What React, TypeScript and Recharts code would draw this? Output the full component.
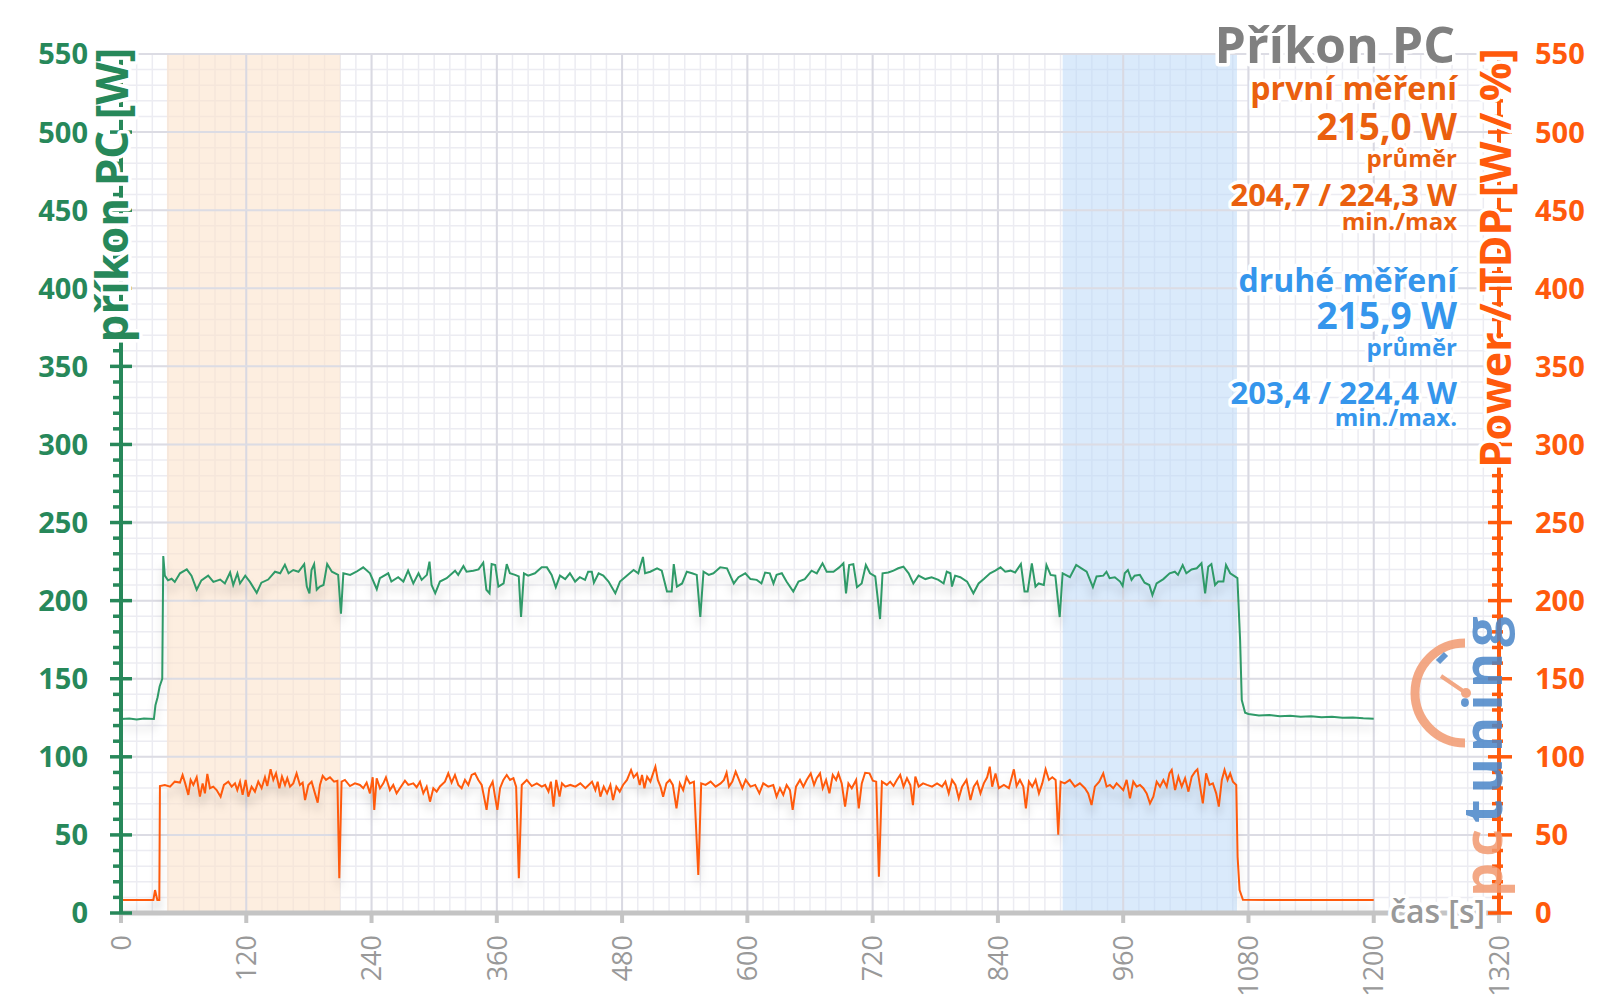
import React from "react";
import {
  LineChart,
  Line,
  XAxis,
  YAxis,
  CartesianGrid,
  ReferenceArea,
  ReferenceLine,
} from "recharts";

// green: příkon PC [W], [čas s, W]
const greenSamples: [number, number][] = [
  [0, 124.2], [8, 124.6], [15, 123.9], [22, 124.5], [31.5, 124.2], [33, 133], [35, 138], [37, 145], [39.5, 150],
  [40.5, 228.6], [42, 216], [45, 213], [48.5, 214], [51.5, 212], [56.5, 217.5], [63, 220], [67.5, 216], [72.5, 207],
  [77, 213], [83.5, 216], [88.5, 212], [95, 213.5], [99.5, 211], [104.5, 218], [107.5, 210], [111.5, 217.5], [114, 211],
  [119, 216], [123.5, 212], [130, 205], [134.5, 211.5], [141, 213.5], [147.5, 218.5], [152.5, 217.5], [157, 223],
  [160.5, 217.5], [165, 219.6], [170, 218.5], [175.5, 223.4], [178, 209], [180.5, 204.7], [182.5, 219.6], [185, 223.4],
  [187.5, 207], [190.5, 209], [194, 210], [197.5, 223.4], [202, 218.5], [208, 216.5], [210.7, 191.6], [213, 217.5],
  [219.5, 216.5], [225.5, 218.5], [232, 221.3], [238.5, 217.5], [245, 207.3], [248, 214.4], [256, 217.5], [259, 212.2],
  [265.5, 215], [270.5, 212.2], [275, 219.2], [280, 211], [285, 217.5], [288, 213.3], [293, 216.5], [295.5, 225],
  [297.5, 210], [301, 204.7], [305.5, 212.2], [312, 214.4], [320, 219.2], [323, 216.5], [328, 222.2], [331, 218.5],
  [337.5, 219.2], [342.5, 220], [347, 224.3], [350, 207], [353, 204.7], [355, 223.4], [358.5, 222.8], [361.5, 209],
  [366.5, 211], [369.5, 223.4], [372.5, 217.5], [377.5, 216.5], [381, 215.5], [383.2, 189.5], [386, 217.5], [390, 216],
  [396.5, 217.5], [403, 221.3], [408, 221.3], [412.5, 216.5], [416.5, 208.6], [420.5, 216], [425.5, 213.8], [430, 217.5],
  [435, 212.2], [439.5, 215], [444.5, 213.3], [447.5, 218.5], [451, 218.5], [453, 211.5], [457.5, 217.5], [462, 216],
  [467, 212.2], [473.5, 204.7], [478, 212.2], [484.5, 216], [491, 219.6], [495.5, 217.5], [500, 228], [502, 217.5],
  [507, 218.5], [513.5, 220.7], [518, 219.2], [523, 205.8], [527.5, 205.8], [529.5, 223.4], [532.5, 209], [537.5, 211],
  [542, 218.5], [547, 217.5], [551.5, 216.5], [554.9, 189.5], [558, 218.5], [563, 216.5], [567.5, 217.5], [574, 221.3],
  [580.5, 220.7], [587, 211], [591.5, 215], [598, 217.5], [603, 213.8], [609, 213.3], [613.5, 211], [617, 218],
  [621.5, 217.5], [625, 211], [628, 216.5], [633, 217.5], [637.5, 212.2], [644, 205.8], [649, 212.2], [655, 213.8],
  [661.5, 219.2], [666.5, 217.5], [672, 223.9], [676, 218.5], [682.5, 218.5], [688, 221.3], [692, 223.9], [694.5, 204.7],
  [697.5, 222.8], [701.5, 223.4], [705, 208.6], [709.5, 211], [713.5, 222.8], [717.5, 217.5], [722.5, 215.5],
  [727.1, 188.2], [729.5, 217.5], [735, 218], [740, 219.2], [744.5, 220.7], [749.5, 221.7], [754.5, 217.5], [759, 211],
  [764, 216], [770.5, 213.8], [776.5, 215], [783, 213.3], [788, 211], [791, 218.5], [794.5, 217.5], [796, 209], [799, 216],
  [804, 215], [810.5, 212.2], [816.5, 204.7], [821.5, 211], [826.5, 213.8], [832.5, 217.5], [837.5, 219.2], [842.5, 221.3],
  [847, 218.5], [852, 219.2], [856.5, 218], [862, 223.4], [865.5, 205.8], [868.5, 205.8], [872.5, 223.9], [876, 209],
  [879, 211], [884, 210], [886.5, 222.8], [890.5, 216.5], [895, 216], [899.2, 189.5], [902, 217.5], [909, 215],
  [915, 222.8], [920, 220.7], [925, 218.5], [931, 208.6], [934.5, 215.5], [941, 216], [944, 218.5], [947, 214.4],
  [952, 215], [957, 212.2], [959.5, 209.4], [961.5, 217.5], [964.5, 219.6], [968, 213.3], [971, 216], [976, 216.5],
  [980.5, 211.5], [985, 210], [988, 203.6], [992, 211], [998.5, 213.8], [1004.5, 217.5], [1009.5, 218.5], [1012.5, 216.5],
  [1017, 222.8], [1020.5, 217.5], [1025.5, 220], [1030.5, 220.7], [1035, 223.9], [1038.5, 204.7], [1041.5, 221.7],
  [1044.5, 223.4], [1048, 210], [1051, 212.2], [1056, 212.2], [1058.5, 222.8], [1062.5, 217.5], [1067, 215.5],
  [1069.4, 214.4], [1072, 174.7], [1073.6, 136.3], [1076.8, 128.2], [1080, 127.4], [1090, 126.5], [1100, 126.8],
  [1110, 126], [1120, 126.3], [1130, 125.7], [1140, 125.9], [1150, 125.3], [1160, 125.6], [1170, 125], [1180, 125.2],
  [1190, 124.7], [1200, 124.4],
];

// orange: Power / TDP [W / %]
const orangeSamples: [number, number][] = [
  [0, 8.3], [31, 8.3], [32.6, 14.7], [34.8, 8.3], [36.7, 8.3], [37.3, 81.3], [42, 82], [47, 80.9], [51.5, 84.1],
  [56.5, 83.5], [59, 88.4], [61.5, 83], [64.5, 75.6], [66.7, 85.2], [69.3, 82], [72.5, 86.9], [75.6, 74.5], [78.2, 83],
  [80.4, 76.6], [82.7, 89], [85.2, 79.9], [88.4, 80.9], [91.6, 78.7], [95.4, 74.5], [98.6, 82], [102.8, 84.1], [106, 80.9],
  [109.2, 83], [111.4, 78.7], [114, 84.1], [116.5, 75.6], [119.4, 85.2], [121.9, 74.5], [125.1, 80.9], [128.3, 77.7],
  [131.5, 84.1], [134.7, 79.9], [137.9, 86.9], [140.1, 81.3], [143.3, 92], [145.9, 85.2], [148.5, 89.4], [151.7, 79.9],
  [154.2, 87.3], [157.1, 82], [159.3, 86.3], [161.9, 80.9], [165, 83], [168.2, 89.4], [171.4, 82], [174, 83.5],
  [176.3, 72.3], [179.5, 82], [182.6, 84.1], [185.8, 76.6], [188.4, 70.6], [190.6, 82], [193.2, 87.8], [196.4, 85.2],
  [200.2, 86.9], [204.1, 84.1], [207.3, 84.7], [209.1, 22.2], [211.3, 84.1], [214.5, 85.2], [219.3, 81.3], [224.1, 83],
  [228.9, 82], [232.1, 79.9], [235.3, 83.5], [238.5, 76.6], [241.1, 86.9], [242.6, 66], [244.9, 86.3], [248.1, 79.9],
  [251.3, 83], [253.8, 86.9], [257.6, 78.7], [260.8, 82], [264, 76.6], [267.2, 79.9], [272, 84.7], [275.2, 82], [280, 83],
  [283.2, 80.5], [286.4, 84.1], [289.6, 76.6], [292.8, 80.9], [296, 71.3], [299.2, 79.9], [302.4, 77.7], [305.5, 81],
  [310.3, 84.1], [313.5, 89.4], [316.7, 83.5], [319.9, 88.4], [323.1, 82], [326.3, 79.9], [329.5, 85.2], [332.7, 82],
  [335.9, 88.4], [339.1, 89.4], [342.3, 85.2], [345.5, 82], [347.1, 76.6], [350.2, 66], [352.8, 79.9], [356, 84.1],
  [358.3, 74.5], [360.5, 66], [363.1, 79.9], [366.3, 85.2], [369.5, 88.4], [372.7, 85.2], [375.9, 86.3], [378.5, 80.9],
  [381.1, 22.2], [383.9, 82], [388.7, 85.2], [393.5, 81.3], [398.3, 83], [403.1, 80.9], [406.3, 82], [409.5, 77.7],
  [411.8, 84.1], [414.3, 68.1], [416.9, 85.2], [420.1, 74.5], [422.4, 83], [425.6, 80.9], [430.4, 82], [435.2, 80.9],
  [440, 83], [444.8, 79.9], [448, 82], [451.2, 84.1], [454.4, 78.7], [456.6, 84.1], [459.2, 74.5], [462.4, 80.9],
  [465.6, 76.6], [468.8, 82], [471.3, 72.3], [474.5, 80.9], [477.7, 77.7], [480.9, 82], [484.7, 85.2], [488.6, 91.6],
  [491.1, 86.9], [494.3, 89.4], [496.9, 82], [499.1, 88.4], [501.4, 79.9], [504, 87.3], [507.1, 84.1], [509.7, 89.4],
  [511.9, 93.7], [514.2, 85.2], [516.8, 80.9], [519.3, 74.5], [522.5, 83], [525.7, 85.2], [528.6, 82], [532.1, 67],
  [535.3, 83], [538.5, 78.7], [541.7, 86.9], [544.9, 83], [548.8, 84.1], [553, 24.3], [555.8, 83], [560, 82],
  [564.8, 84.1], [569.6, 80.9], [574.4, 83], [577.6, 85.2], [580.1, 89.8], [582.4, 80.9], [585.6, 84.1], [588.8, 90.5],
  [592, 85.2], [595.2, 79.9], [598.4, 85.2], [603, 80.9], [607.5, 82], [611.5, 76.6], [615.2, 83], [620, 80.9],
  [624.8, 82], [628, 74.5], [631.2, 79.9], [634.4, 75.6], [637.6, 82], [640.8, 78.7], [643.4, 66], [646.6, 80.9],
  [650.4, 85.2], [653.6, 80.9], [656.8, 85.2], [660.7, 89.4], [663.9, 82], [666.4, 86.3], [669.6, 89.4], [672.2, 79.9],
  [675.4, 85.2], [678.6, 76.6], [681.8, 88.4], [685, 85.2], [687.2, 89.4], [690.4, 83], [693.6, 68.1], [696.8, 83],
  [700, 79.9], [704.2, 85.2], [706.7, 67], [709.6, 83], [712.8, 89.8], [717, 89.4], [720.2, 84.7], [723.4, 84.1],
  [726, 23.3], [728.9, 84.1], [733.6, 82], [736.8, 84.1], [740, 81.3], [743.2, 85.2], [746.4, 88.4], [749.6, 80.9],
  [752.9, 86.3], [756.1, 82], [758.6, 69.1], [760.9, 87.3], [764.1, 80.9], [768.3, 83], [772.1, 82], [776.9, 80.9],
  [781.7, 83], [786.5, 80.9], [789.7, 84.1], [792.9, 76.6], [796.1, 85.2], [799.3, 82], [802.5, 73.4], [805.7, 80.9],
  [809.9, 85.2], [813.7, 72.3], [816.9, 80.9], [820.1, 84.1], [823.3, 76.6], [826.5, 83], [829.7, 86.9], [832.2, 93.7],
  [834.5, 80.9], [837.7, 89.4], [840.9, 79.9], [845.7, 82], [850.5, 79.9], [855.3, 92], [857.9, 81.3], [861.1, 85.2],
  [864.3, 80.9], [866.8, 67], [869.7, 84.1], [872.9, 80.9], [876.1, 85.2], [879.3, 76.6], [882.5, 83], [885.7, 92],
  [888.9, 85.2], [892.1, 86.9], [895.3, 85.2], [897.8, 50.1], [900.1, 84.1], [904, 83], [908.9, 85.2], [913.7, 80.9],
  [918.5, 83], [923.3, 79.9], [926.5, 76.6], [929.7, 69.1], [932.9, 80.9], [937.1, 84.1], [940.9, 89.4], [944.1, 80.9],
  [947.3, 82], [950.5, 79.9], [953.7, 83], [956.9, 80.9], [960.1, 78.7], [963.3, 85.2], [966.5, 73.4], [969.7, 84.1],
  [972.9, 80.9], [976.1, 82], [979.3, 79.9], [982.5, 76.6], [985.7, 70.2], [988.9, 74.5], [992.1, 84.1], [995.3, 80.9],
  [998.5, 85.2], [1001.7, 80.9], [1004.3, 89.4], [1006.5, 91.6], [1009.7, 78.7], [1012.9, 87.3], [1016.1, 80.9],
  [1019.3, 86.3], [1022.5, 77.7], [1025.7, 87.3], [1028.9, 90.5], [1031.1, 92], [1033.7, 80.9], [1036.3, 70.2],
  [1039.5, 89.4], [1042.7, 82], [1045.9, 83], [1049.1, 76.6], [1051.6, 68.1], [1054.5, 85.2], [1057.1, 91.6],
  [1060, 85.2], [1062.5, 89.4], [1065.1, 84.1], [1068.3, 82], [1069.6, 36], [1071.5, 14.7], [1074.7, 8.5], [1100, 8.3],
  [1200, 8.3],
];

const xLabelTicks = [0, 120, 240, 360, 480, 600, 720, 840, 960, 1080, 1200, 1320];
const yLabelTicks = [0, 50, 100, 150, 200, 250, 300, 350, 400, 450, 500, 550];

// highlighted measurement windows [s]
const firstWindow = [44, 210];
const secondWindow = [902, 1069];

// minor grid steps
const xGridTicks = Array.from({ length: 89 }, (_, i) => i * 15);
const yGridTicks = Array.from({ length: 56 }, (_, i) => i * 10);

const greenData = greenSamples.map(([t, v]) => ({ t, v }));
const orangeData = orangeSamples.map(([t, v]) => ({ t, v }));

const FONT = "'Open Sans', 'DejaVu Sans', sans-serif";
const GREEN_LINE = "#2f9a68";
const GREEN_AXIS = "#27885a";
const ORANGE_LINE = "#ff5a0c";
const ORANGE_TEXT = "#ea600e";
const BLUE_TEXT = "#3596ec";
const GRAY = "#999999";

const css = `
.shadow-line .recharts-curve { filter: drop-shadow(0px 9px 4px rgba(0,0,0,0.17)); }
`;

const XTick = (props: any) => {
  const { x, y, payload } = props;
  const v = payload.value;
  if (v % 120 !== 0) return <g />;
  return (
    <g>
      <line x1={x} x2={x} y1={y} y2={y + 10} stroke="#c4c4c4" strokeWidth={4} />
      <text
        x={x}
        y={y + 22}
        transform={`rotate(-90 ${x} ${y + 22})`}
        textAnchor="end"
        dy="0.36em"
        fill={GRAY}
        fontSize={27}
        fontFamily={FONT}
      >
        {v}
      </text>
    </g>
  );
};

const LeftTick = (props: any) => {
  const { x, y, payload } = props;
  const v = payload.value;
  const major = v % 50 === 0;
  return (
    <g>
      <line x1={major ? x - 11 : x - 8} x2={major ? x + 11 : x} y1={y} y2={y} stroke={GREEN_AXIS} strokeWidth={3.5} />
      {major && (
        <text x={x - 33} y={y} dy="0.36em" textAnchor="end" fill={GREEN_AXIS} fontSize={29} fontWeight={700} fontFamily={FONT}>
          {v}
        </text>
      )}
    </g>
  );
};

const RightTick = (props: any) => {
  const { x, y, payload } = props;
  const v = payload.value;
  const major = v % 50 === 0;
  return (
    <g>
      <line x1={major ? x - 11 : x - 7} x2={major ? x + 13 : x + 4} y1={y} y2={y} stroke={ORANGE_LINE} strokeWidth={3.5} />
      {major && (
        <text x={x + 36} y={y} dy="0.36em" textAnchor="start" fill={ORANGE_LINE} fontSize={29} fontWeight={700} fontFamily={FONT}>
          {v}
        </text>
      )}
    </g>
  );
};

const halo = { paintOrder: "stroke" as const, stroke: "#ffffff", strokeWidth: 7, strokeLinejoin: "round" as const };

function Overlay() {
  const rx = 1457;
  return (
    <svg width={1600} height={1008} style={{ position: "absolute", left: 0, top: 0, pointerEvents: "none" }}>
      <g fontFamily={FONT} fontWeight={700}>
        {/* pctuning logo */}
        <g opacity={0.85}>
          <path d="M 1465 643 A 50 50 0 0 0 1465 743" fill="none" stroke="#f29a70" strokeWidth={9} />
          <line x1={1466} y1={693} x2={1441} y2={676} stroke="#f29a70" strokeWidth={4} />
          <circle cx={1466} cy={693} r={5} fill="#f29a70" />
          <line x1={1438} y1={662} x2={1446} y2={654} stroke="#4a86c8" strokeWidth={6} />
          <text transform="rotate(-90 1502 897)" x={1502} y={897} fontSize={54} letterSpacing={6}>
            <tspan fill="#f29a70">pc</tspan>
            <tspan fill="#4a86c8">tuning</tspan>
          </text>
        </g>

        <text x={rx - 2} y={63} textAnchor="end" fontSize={50} fill="#808080" style={halo}>Příkon PC</text>
        <text x={rx} y={100} textAnchor="end" fontSize={32} fill={ORANGE_TEXT} style={halo}>první měření</text>
        <text x={rx} y={140} textAnchor="end" fontSize={37} fill={ORANGE_TEXT} style={halo}>215,0 W</text>
        <text x={rx} y={167} textAnchor="end" fontSize={24} fill={ORANGE_TEXT} style={halo}>průměr</text>
        <text x={rx} y={206} textAnchor="end" fontSize={31} fill={ORANGE_TEXT} style={halo}>204,7 / 224,3 W</text>
        <text x={rx} y={230} textAnchor="end" fontSize={24} fill={ORANGE_TEXT} style={halo}>min./max</text>
        <text x={rx} y={292} textAnchor="end" fontSize={32} fill={BLUE_TEXT} style={halo}>druhé měření</text>
        <text x={rx} y={329} textAnchor="end" fontSize={37} fill={BLUE_TEXT} style={halo}>215,9 W</text>
        <text x={rx} y={356} textAnchor="end" fontSize={24} fill={BLUE_TEXT} style={halo}>průměr</text>
        <text x={rx} y={404} textAnchor="end" fontSize={31} fill={BLUE_TEXT} style={halo}>203,4 / 224,4 W</text>
        <text x={rx} y={426} textAnchor="end" fontSize={24} fill={BLUE_TEXT} style={halo}>min./max.</text>

        <text transform="rotate(-90 128 195)" x={128} y={195} textAnchor="middle" fontSize={44} fill={GREEN_AXIS} style={halo}>
          příkon PC [W]
        </text>
        <text transform="rotate(-90 1511 258)" x={1511} y={258} textAnchor="middle" fontSize={43} fill={ORANGE_LINE} style={halo}>
          Power / TDP [W / %]
        </text>
        <text x={1390} y={923} fontSize={32} fontWeight={600} fill={GRAY} style={halo}>čas [s]</text>
      </g>
    </svg>
  );
}

export default function App() {
  return (
    <div style={{ position: "absolute", left: 0, top: 0, width: 1600, height: 1008, background: "#fff" }}>
      <style>{css}</style>
      <LineChart width={1600} height={1008} margin={{ top: 54, right: 0, bottom: 0, left: 0 }}>
        <CartesianGrid yAxisId="left" stroke="#ececf2" strokeWidth={1.5} />
        <XAxis
          dataKey="t"
          type="number"
          domain={[0, 1320]}
          ticks={xGridTicks}
          interval={0}
          height={95}
          tickSize={0}
          tickMargin={0}
          tickLine={false}
          axisLine={{ stroke: "#c4c4c4", strokeWidth: 5 }}
          tick={<XTick />}
          allowDataOverflow
        />
        <YAxis
          yAxisId="left"
          orientation="left"
          type="number"
          domain={[0, 550]}
          ticks={yGridTicks}
          interval={0}
          width={121}
          tickSize={0}
          tickMargin={0}
          tickLine={false}
          axisLine={{ stroke: GREEN_AXIS, strokeWidth: 4 }}
          tick={<LeftTick />}
        />
        <YAxis
          yAxisId="right"
          orientation="right"
          type="number"
          domain={[0, 550]}
          ticks={yGridTicks}
          interval={0}
          width={101}
          tickSize={0}
          tickMargin={0}
          tickLine={false}
          axisLine={{ stroke: ORANGE_LINE, strokeWidth: 4 }}
          tick={<RightTick />}
        />
        <ReferenceArea yAxisId="left" x1={firstWindow[0]} x2={firstWindow[1]} y1={0} y2={550} fill="#fce3cc" fillOpacity={0.6} stroke="none" />
        <ReferenceArea yAxisId="left" x1={secondWindow[0]} x2={secondWindow[1]} y1={0} y2={550} fill="#bcd8f8" fillOpacity={0.55} stroke="none" />
        {xLabelTicks.slice(1, -1).map((v) => (
          <ReferenceLine key={"x" + v} yAxisId="left" x={v} stroke="#d9d9e2" strokeWidth={2} />
        ))}
        {yLabelTicks.slice(1).map((v) => (
          <ReferenceLine key={"y" + v} yAxisId="left" y={v} stroke="#dcdce4" strokeWidth={2} />
        ))}
        <Line
          className="shadow-line"
          data={greenData}
          dataKey="v"
          yAxisId="left"
          type="linear"
          stroke={GREEN_LINE}
          strokeWidth={2}
          dot={false}
          activeDot={false}
          isAnimationActive={false}
        />
        <Line
          className="shadow-line"
          data={orangeData}
          dataKey="v"
          yAxisId="right"
          type="linear"
          stroke={ORANGE_LINE}
          strokeWidth={2}
          dot={false}
          activeDot={false}
          isAnimationActive={false}
        />
      </LineChart>
      <Overlay />
    </div>
  );
}
